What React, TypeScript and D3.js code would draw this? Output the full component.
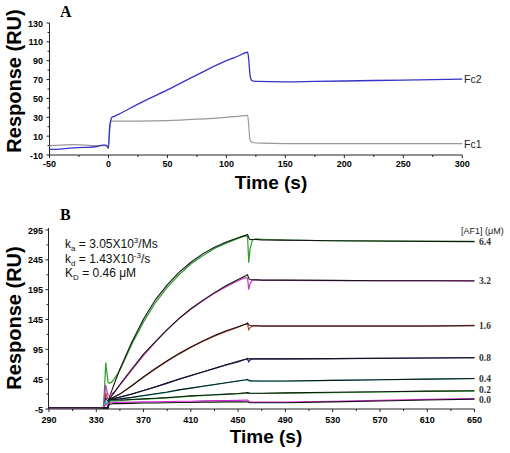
import React from "react";
import * as d3 from "d3";

// ---------- Panel A data ----------
const aFc2Times = [-50, -45, -40, -30, -20, -10, -5, -2, -1, 0, 1, 2, 3, 5, 10, 25, 50, 75, 100, 110, 118, 119, 120, 121, 122, 125, 150, 175, 200, 225, 250, 275, 300];
const aFc2Values = [-4, -4, -3.5, -2.5, -2, -1, 0.5, 0.5, -1.5, -3, 20, 27, 30, 31, 34, 44, 59, 75, 90, 95, 99, 90, 75, 70, 68.5, 68, 67.5, 68, 68.5, 69, 69.5, 70, 70.5];
const aFc1Times = [-50, -40, -30, -20, -10, -2, 0, 1, 2, 3, 10, 25, 50, 75, 100, 110, 118, 119, 120, 121, 123, 130, 150, 200, 250, 300];
const aFc1Values = [0, 0.5, 1, 0.5, 0, 0, 0, 15, 25, 26, 26, 26, 26.5, 28, 30, 31, 32, 20, 6, 4, 3, 2.5, 2, 2, 2, 2];
const aXTicks = [-50, 0, 50, 100, 150, 200, 250, 300];
const aYTicks = [-10, 10, 30, 50, 70, 90, 110, 130];
const aSeriesLabels = ["Fc2", "Fc1"];

// ---------- Panel B data ----------
const bTimes = [290, 300, 310, 320, 330, 336, 337, 338, 339, 340, 341, 343, 345, 350, 360, 370, 380, 390, 400, 410, 420, 430, 440, 450, 456, 458, 459, 460, 462, 465, 470, 490, 530, 570, 610, 650];
const concLabels = ["6.4", "3.2", "1.6", "0.8", "0.4", "0.2", "0.0"];
const labelNudge = [3.3, 3.3, 3.3, 3.3, 3.3, 2.3, 4.2];
const dataColors = ["#2a9d2a", "#c03cc0", "#c8402c", "#2a2a96", "#2cc8c8", "#2cb82c", "#d42ad4"];

const d64 = [-3, -3, -3.5, -3, -3, -2.5, 30, 73, 55, 40, 38, 40, 45, 60, 103, 141, 173, 199, 220, 238, 252, 264, 273, 281, 285, 284, 240, 262, 278, 280, 279.5, 278, 277, 276.5, 276, 276];
const f64 = [-3, -3, -3, -3, -3, -3, -3, -3, -3, -3, 14, 25, 36, 62, 107, 146, 178, 203, 224, 241, 255, 266, 275, 282, 286, 287.5, 282, 279, 279, 279, 278.5, 278, 277, 276.5, 276, 275.5];
const d32 = [-3, -3, -3, -3, -3, -2.5, 15, 35, 25, 18, 17, 20, 23, 35, 60, 85, 107, 128, 146, 162, 176, 189, 200, 210, 215, 214, 195, 205, 211, 211.5, 211, 210.5, 210, 210, 210, 210];
const f32 = [-3, -3, -3, -3, -3, -3, -3, -3, -3, -3, 12, 17, 22, 36, 62, 87, 108, 128, 147, 163, 177, 190, 202, 212, 218, 220, 214, 212, 211.5, 211.5, 211, 211, 210.5, 210, 210, 209.5];
const d16 = [-3, -3, -3, -3, -3, -2.5, 8, 22, 16, 12, 11, 13, 15, 20, 34, 48, 62, 75, 87, 98, 108, 117, 125, 132, 137, 137, 128, 131, 134, 134.5, 134, 134, 134, 134, 134, 135];
const f16 = [-3, -3, -3, -3, -3, -3, -3, -3, -3, -3, 12, 13.5, 15, 20, 34, 49, 63, 76, 88, 99, 109, 118, 126, 133, 137, 139, 136, 135, 134.5, 134.5, 134, 134, 134, 134, 134, 134.5];
const d08 = [-3, -3, -3, -3, -3, -2.5, 5, 14, 10, 9, 9, 11, 12, 15, 20, 26, 32, 38, 45, 51, 57, 63, 69, 74, 78, 78, 74, 77, 79, 79, 79, 79, 79.5, 80, 80.5, 81];
const f08 = [-3, -3, -3, -3, -3, -3, -3, -3, -3, -3, 12, 12.5, 13, 15, 20, 26, 32, 39, 45, 51, 57, 63, 69, 75, 78.5, 80, 79, 79, 79, 79, 79, 79, 79.5, 80, 80.5, 81];
const d04 = [-3, -3, -3, -3, -3, -2.5, 3, 8, 7, 7, 7, 9, 10, 12, 14, 17, 20, 23, 27, 30, 33, 36, 39, 42, 44, 44, 42, 42, 42, 42, 41.5, 41.5, 43, 44, 45, 46];
const f04 = [-3, -3, -3, -3, -3, -3, -3, -3, -3, -3, 11, 11, 11, 12, 14.5, 17.5, 20.5, 23.5, 27, 30, 33, 36, 39, 42, 43.5, 44.5, 43, 42.5, 42, 42, 42, 42, 43, 44, 45, 46];
const d02 = [-3, -3, -3, -3, -3, -2.5, 1, 4, 5, 6, 7, 8, 8.5, 9, 10.5, 11.5, 12.5, 13.5, 15, 16.5, 17.5, 18.5, 19.5, 20.5, 21.5, 22, 21, 21, 21, 21, 21, 21.5, 22.5, 23.5, 24.5, 25];
const f02 = [-3, -3, -3, -3, -3, -3, -3, -3, -3, -3, 10, 10, 10, 10, 11, 12, 13, 14, 15.5, 17, 18, 19, 20, 21, 22, 22.5, 22, 21.5, 21.5, 21.5, 21.5, 22, 23, 24, 25, 25.5];
const d00 = [-3, -3, -3, -3, -3, -2.5, 0, 2, 3, 4, 5, 5.5, 6, 6, 6.5, 7, 7, 7.5, 8, 8, 8.5, 9, 9, 9.5, 10, 10, 8, 7, 6.5, 6.5, 6.5, 6.5, 8, 9.5, 11, 12.5];
const f00 = [-3, -3, -3, -3, -3, -3, -3, -3, -3, -3, 3, 3.5, 4, 4, 4.5, 5, 5, 5.5, 6, 6, 6.5, 6.5, 7, 7, 7, 7, 6, 5.5, 5.5, 5.5, 5.5, 5.5, 7, 8.5, 10, 11.5];

const bData = [d64, d32, d16, d08, d04, d02, d00];
const bFits = [f64, f32, f16, f08, f04, f02, f00];
const bXTicks = [290, 330, 370, 410, 450, 490, 530, 570, 610, 650];
const bYTicks = [-5, 45, 95, 145, 195, 245, 295];

const sans = "'Liberation Sans', Arial, sans-serif";
const serif = "'Liberation Serif', 'Times New Roman', serif";

function Axes({ x, y, xTicks, yTicks, xMinor, yMinor, x0, x1, y0, y1 }: any) {
  return (
    <g stroke="#222" fill="none">
      <line x1={x0} x2={x1} y1={y0} y2={y0} strokeWidth={1} />
      <line x1={x0} x2={x0} y1={y0} y2={y1} strokeWidth={1} />
      {xTicks.map((t: number) => (
        <line key={"xt" + t} x1={x(t)} x2={x(t)} y1={y0} y2={y0 + 3} />
      ))}
      {xMinor.map((t: number) => (
        <line key={"xm" + t} x1={x(t)} x2={x(t)} y1={y0} y2={y0 + 2} />
      ))}
      {yTicks.map((t: number) => (
        <line key={"yt" + t} x1={x0 - 3} x2={x0} y1={y(t)} y2={y(t)} />
      ))}
      {yMinor.map((t: number) => (
        <line key={"ym" + t} x1={x0 - 2} x2={x0} y1={y(t)} y2={y(t)} />
      ))}
    </g>
  );
}

export default function App() {
  // Panel A scales
  const ax = d3.scaleLinear().domain([-50, 300]).range([49.5, 462.3]);
  const ay = d3.scaleLinear().domain([-10, 130]).range([155, 23]);
  const mkA = (ts: number[], vs: number[]) =>
    d3
      .line<number>()
      .x((_, i) => ax(ts[i]))
      .y((v) => ay(v))
      .curve(d3.curveMonotoneX)(vs) || "";

  const aXMinor = aXTicks.slice(0, -1).map((t) => t + 25);
  const aYMinor = aYTicks.slice(0, -1).map((t) => t + 10);

  // Panel B scales
  const bx = d3.scaleLinear().domain([290, 650]).range([49, 474.5]);
  const by = d3.scaleLinear().domain([-5, 295]).range([409, 230]);
  const mkB = (vs: number[]) =>
    d3
      .line<number>()
      .x((_, i) => bx(bTimes[i]))
      .y((v) => by(v))(vs) || "";
  const bXMinor = bXTicks.slice(0, -1).map((t) => t + 20);
  const bYMinor = bYTicks.slice(0, -1).map((t) => t + 25);

  const tickFont = { fontFamily: sans, fontSize: 9, fontWeight: "bold" as const };

  return (
    <div style={{ position: "absolute", left: 0, top: 0 }}>
      <svg width={510} height={453} style={{ display: "block", background: "#fff" }}>
        {/* ---------- Panel A ---------- */}
        <text x={60} y={17} fontFamily={serif} fontWeight="bold" fontSize={16}>A</text>
        <Axes x={ax} y={ay} xTicks={aXTicks} yTicks={aYTicks} xMinor={aXMinor} yMinor={aYMinor}
          x0={49.5} x1={462.3} y0={155} y1={23} />
        {aXTicks.map((t) => (
          <text key={t} x={ax(t)} y={167} textAnchor="middle" {...tickFont}>{t}</text>
        ))}
        {aYTicks.map((t) => (
          <text key={t} x={43} y={ay(t) + 3.5} textAnchor="end" {...tickFont}>{t}</text>
        ))}
        <path d={mkA(aFc1Times, aFc1Values)} fill="none" stroke="#999" strokeWidth={1.2} />
        <path d={mkA(aFc2Times, aFc2Values)} fill="none" stroke="#3434c8" strokeWidth={1.3} />
        <text x={464} y={ay(70.5) + 4} fontFamily={sans} fontSize={10.5} fill="#222">{aSeriesLabels[0]}</text>
        <text x={464} y={ay(2) + 4} fontFamily={sans} fontSize={10.5} fill="#222">{aSeriesLabels[1]}</text>
        <text x={271} y={189} textAnchor="middle" fontFamily={sans} fontWeight="bold" fontSize={19}>Time (s)</text>
        <text transform="translate(20.5,81) rotate(-90)" textAnchor="middle" fontFamily={sans} fontWeight="bold" fontSize={20}>Response (RU)</text>

        {/* ---------- Panel B ---------- */}
        <text x={60} y={220} fontFamily={serif} fontWeight="bold" fontSize={16}>B</text>
        <Axes x={bx} y={by} xTicks={bXTicks} yTicks={bYTicks} xMinor={bXMinor} yMinor={bYMinor}
          x0={48.5} x1={474.5} y0={409} y1={228} />
        {bXTicks.map((t) => (
          <text key={t} x={bx(t)} y={423} textAnchor="middle" {...tickFont}>{t}</text>
        ))}
        {bYTicks.map((t) => (
          <text key={t} x={43} y={by(t) + 3.5} textAnchor="end" {...tickFont}>{t}</text>
        ))}
        {bData.map((vs, i) => (
          <g key={i}>
            <path d={mkB(vs)} fill="none" stroke={dataColors[i]} strokeWidth={1.2} />
            <path d={mkB(bFits[i])} fill="none" stroke="#151515" strokeWidth={1.1} />
          </g>
        ))}
        {concLabels.map((c, i) => (
          <text key={c} x={479} y={by(bFits[i][bFits[i].length - 1]) + labelNudge[i]} fontFamily={serif}
            fontWeight="bold" fontSize={9.5} fill="#333">{c}</text>
        ))}
        <text x={461} y={234} fontFamily={sans} fontSize={9} fill="#222">[AF1] (μM)</text>

        <g fontFamily={sans} fontSize={12} fill="#111">
          <text x={65} y={248}>
            k<tspan fontSize={8} dy={3}>a</tspan>
            <tspan dy={-3}> = 3.05X10</tspan>
            <tspan fontSize={8} dy={-5}>3</tspan>
            <tspan dy={5}>/Ms</tspan>
          </text>
          <text x={65} y={262.5}>
            k<tspan fontSize={8} dy={3}>d</tspan>
            <tspan dy={-3}> = 1.43X10</tspan>
            <tspan fontSize={8} dy={-5}>-3</tspan>
            <tspan dy={5}>/s</tspan>
          </text>
          <text x={65} y={276.5}>
            K<tspan fontSize={8} dy={3}>D</tspan>
            <tspan dy={-3}> = 0.46 μM</tspan>
          </text>
        </g>

        <text x={266} y={443} textAnchor="middle" fontFamily={sans} fontWeight="bold" fontSize={19}>Time (s)</text>
        <text transform="translate(20.5,318) rotate(-90)" textAnchor="middle" fontFamily={sans} fontWeight="bold" fontSize={20}>Response (RU)</text>
      </svg>
    </div>
  );
}
